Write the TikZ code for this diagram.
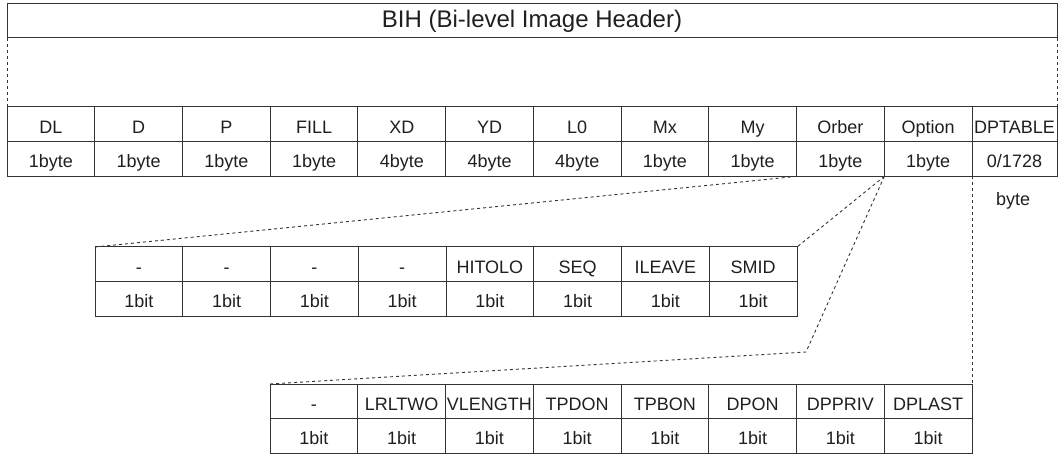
\documentclass[tikz,border=0pt]{standalone}
\usepackage{fontspec}
\setmainfont{Liberation Sans}
\begin{document}
\begin{tikzpicture}[x=1pt,y=-1pt,
  line width=1pt,
  every node/.style={text=black!88},
  cell/.style={draw=black!80, anchor=north west, inner sep=0pt, outer sep=0pt,
    minimum height=34.7pt, text height=17.5pt, text depth=0pt,
    font=\fontsize{18}{20}\selectfont},
  hdrbox/.style={draw=black!80, anchor=north west, inner sep=0pt, outer sep=0pt,
    minimum width=1050pt, minimum height=34pt, font=\fontsize{24}{28}\selectfont},
  link/.style={draw=black!80, line width=0.9pt, dash pattern=on 3pt off 3pt}]
\useasboundingbox (0,0) rectangle (1063,454);
% header
\node[hdrbox] (hdr) at (7,4) {BIH (Bi-level Image Header)};
% main table
\foreach \t [count=\i] in {DL,D,P,FILL,XD,YD,L0,Mx,My,Orber,Option} {
  \node[cell, minimum width=87.73pt] (m\i) at ({7+87.73*(\i-1)},107) {\t};
}
\node[cell, minimum width=85pt] (m12) at (972,107) {DPTABLE};
\foreach \t [count=\i] in {1byte,1byte,1byte,1byte,4byte,4byte,4byte,1byte,1byte,1byte,1byte} {
  \node[cell, minimum width=87.73pt] (mb\i) at ({7+87.73*(\i-1)},141.7) {\t};
}
\node[cell, minimum width=85pt] (mb12) at (972,141.7) {0/1728};
\node[font=\fontsize{18}{20}\selectfont] (bytelbl) at (1013,201) {byte};
% second table (Orber)
\foreach \t [count=\i] in {-,-,-,-,HITOLO,SEQ,ILEAVE,SMID} {
  \node[cell, minimum width=87.75pt] (s\i) at ({95+87.75*(\i-1)},247) {\t};
}
\foreach \i in {1,...,8} {
  \node[cell, minimum width=87.75pt] (sb\i) at ({95+87.75*(\i-1)},281.7) {1bit};
}
% third table (Option)
\foreach \t [count=\i] in {-,LRLTWO,VLENGTH,TPDON,TPBON,DPON,DPPRIV,DPLAST} {
  \node[cell, minimum width=87.75pt] (t\i) at ({270+87.75*(\i-1)},384) {\t};
}
\foreach \i in {1,...,8} {
  \node[cell, minimum width=87.75pt] (tb\i) at ({270+87.75*(\i-1)},418.5) {1bit};
}
% connectors
\coordinate (bend) at (806,352);
\draw[link] (hdr.south west) -- (m1.north west);
\draw[link] (hdr.south east) -- (m12.north east);
\draw[link] (mb10.south west) -- (s1.north west);
\draw[link] (mb11.south west) -- (s8.north east);
\draw[link] (mb11.south west) -- (bend) -- (t1.north west);
\draw[link] (mb12.south west) -- (t8.north east);
\end{tikzpicture}
\end{document}
